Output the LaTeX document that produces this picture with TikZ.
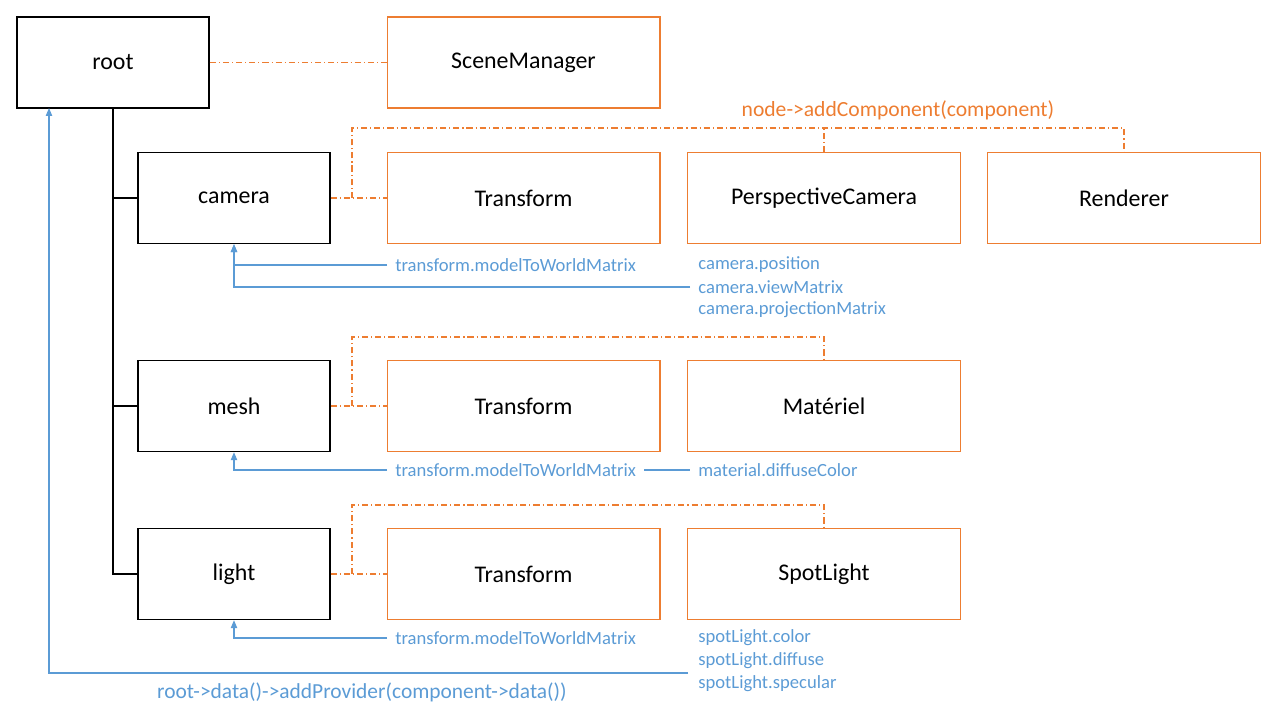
\documentclass[tikz,border=0pt]{standalone}
\usepackage{fontspec}
\setmainfont{Carlito}
\usetikzlibrary{arrows.meta}
\definecolor{compcol}{HTML}{ED7D31}
\definecolor{datacol}{HTML}{5B9BD5}

\begin{document}
\begin{tikzpicture}[x=0.02cm, y=-0.02cm,
    scenebox/.style={draw=black, line width=0.8pt, minimum width=3.84cm, minimum height=1.82cm, font=\fontsize{13.6}{15}\selectfont},
    compbox/.style={draw=compcol, line width=0.6pt, minimum width=5.46cm, minimum height=1.82cm, font=\fontsize{13.6}{15}\selectfont},
    datalabel/.style={anchor=west, text=datacol, inner xsep=0.16cm, inner ysep=1pt, font=\fontsize{10.6}{12}\selectfont},
    tree/.style={draw=black, line width=0.6pt},
    attach/.style={draw=compcol, line width=0.6pt, dash pattern=on 3.5pt off 1.7pt on 0.6pt off 1.7pt},
    provide/.style={draw=datacol, line width=0.6pt, -{Triangle[length=4.5pt,width=3.6pt]}},
    datalink/.style={draw=datacol, line width=0.6pt}]
      \useasboundingbox (0,0) rectangle (1280,720);
      % scene nodes
      \node[scenebox] (root) at (113,62.5) {root};
      \node[scenebox] (camera) at (234,198) {camera};
      \node[scenebox] (mesh) at (234,406) {mesh};
      \node[scenebox] (light) at (234,574) {light};
      % components
      \node[compbox] (scenemgr) at (523.5,62.5) {SceneManager};
      \node[compbox] (camtrans) at (523.5,198) {Transform};
      \node[compbox] (perscam) at (824,198) {PerspectiveCamera};
      \node[compbox] (renderer) at (1124,198) {Renderer};
      \node[compbox] (meshtrans) at (523.5,406) {Transform};
      \node[compbox] (material) at (824,406) {Matériel};
      \node[compbox] (lighttrans) at (523.5,574) {Transform};
      \node[compbox] (spotlight) at (824,574) {SpotLight};
      % data labels
      \node[datalabel] (camtm) at (387,265) {transform.modelToWorldMatrix};
      \node[datalabel] (campos) at (690,265) {camera.position};
      \node[datalabel] (camview) at (690,287) {camera.viewMatrix};
      \node[datalabel] (camproj) at (690,310) {camera.projectionMatrix};
      \node[datalabel] (meshtm) at (387,470) {transform.modelToWorldMatrix};
      \node[datalabel] (matdiff) at (690,470) {material.diffuseColor};
      \node[datalabel] (lighttm) at (387,638) {transform.modelToWorldMatrix};
      \node[datalabel] (spotcol) at (690,638) {spotLight.color};
      \node[datalabel] (spotdiff) at (690,661) {spotLight.diffuse};
      \node[datalabel] (spotspec) at (690,684) {spotLight.specular};
      \node[text=compcol, font=\fontsize{12.3}{14}\selectfont] (addcomp) at (898,110) {node->addComponent(component)};
      \node[text=datacol, font=\fontsize{12.2}{14}\selectfont] (addprov) at (362,692) {root->data()->addProvider(component->data())};
      % helper points
      \coordinate (camup) at (352,128);
      \coordinate (camfork) at (352,198);
      \coordinate (meshup) at (352,337);
      \coordinate (meshfork) at (352,406);
      \coordinate (lightup) at (352,505);
      \coordinate (lightfork) at (352,574);
      \coordinate (rootfrom) at (688,673);
      \coordinate (rootin) at (49,108);
      % tree
      \draw[tree] (root.south) |- (camera.west);
      \draw[tree] (root.south) |- (mesh.west);
      \draw[tree] (root.south) |- (light.west);
      % addComponent
      \draw[attach] (root.east) -- (scenemgr.west);
      \draw[attach] (camera.east) -- (camtrans.west);
      \draw[attach] (camfork) -- (camup) -| (renderer.north);
      \draw[attach] (perscam.north) -- (perscam.north |- camup);
      \draw[attach] (mesh.east) -- (meshtrans.west);
      \draw[attach] (meshfork) -- (meshup) -| (material.north);
      \draw[attach] (light.east) -- (lighttrans.west);
      \draw[attach] (lightfork) -- (lightup) -| (spotlight.north);
      % providers
      \draw[provide] (camtm.west) -| (camera.south);
      \draw[provide] (camview.west) -| (camera.south);
      \draw[provide] (meshtm.west) -| (mesh.south);
      \draw[datalink] (meshtm.east) -- (matdiff.west);
      \draw[provide] (lighttm.west) -| (light.south);
      \draw[provide] (rootfrom) -| (rootin);
\end{tikzpicture}
\end{document}
